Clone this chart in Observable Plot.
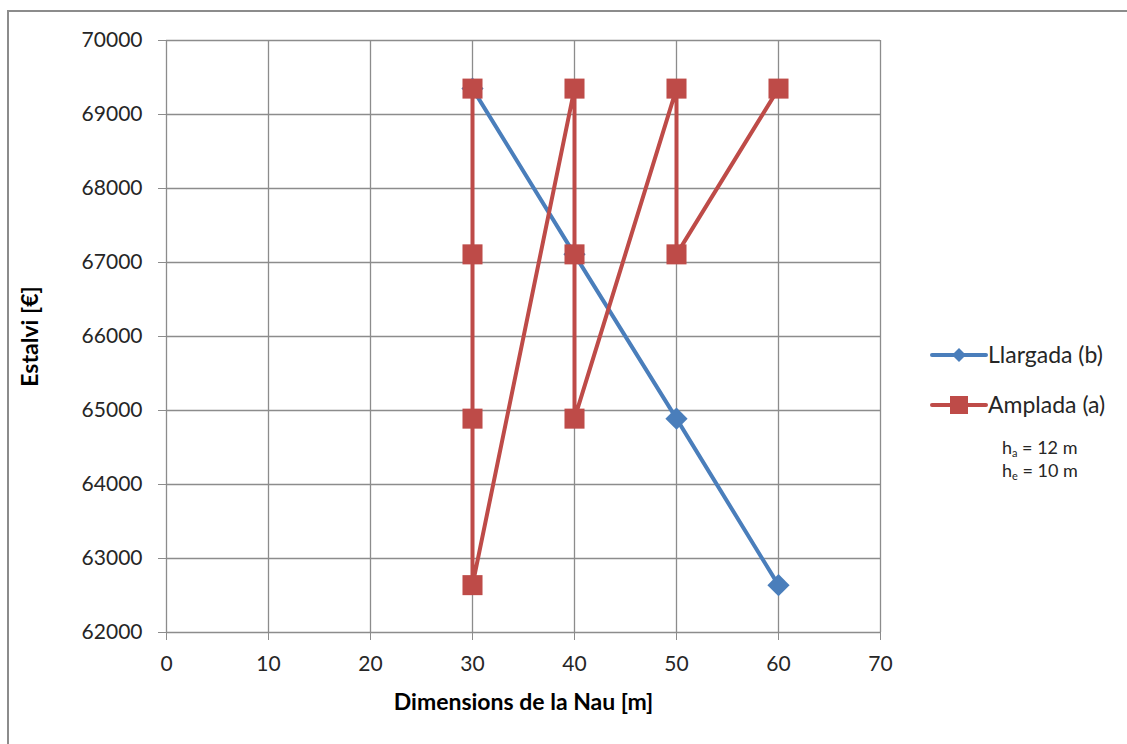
<!DOCTYPE html>
<html>
<head>
<meta charset="utf-8">
<script src="https://cdn.jsdelivr.net/npm/d3@7"></script>
<script src="https://cdn.jsdelivr.net/npm/@observablehq/plot@0.6"></script>
<style>
  html, body { margin: 0; padding: 0; background: #fff; }
  #wrap { position: relative; width: 1127px; height: 744px; overflow: hidden; font-family: Lato, "Open Sans", sans-serif; color: #262626; }
  #frame { position: absolute; left: 7px; top: 10px; width: 1140px; height: 760px; border: 2px solid #8c8c8c; box-sizing: border-box; }
  #chart { position: absolute; left: 0; top: 0; }
  .leg { position: absolute; font-size: 23px; line-height: 1; white-space: nowrap; }
  .note { position: absolute; font-size: 18px; line-height: 1; white-space: nowrap; }
  .note sub { font-size: 11px; vertical-align: -3px; }
</style>
</head>
<body>
<div id="wrap">
  <div id="frame"></div>
  <div id="chart"></div>
  <div id="legend"></div>
</div>
<script>
// ---- data ----
const xTicks = [0, 10, 20, 30, 40, 50, 60, 70];
const yTicks = [62000, 63000, 64000, 65000, 66000, 67000, 68000, 69000, 70000];

const llargadaX = [30, 40, 50, 60];
const llargadaY = [69350, 67110, 64890, 62640];

const ampladaX = [30, 30, 30, 30, 40, 40, 40, 50, 50, 60];
const ampladaY = [69350, 67110, 64890, 62640, 69350, 67110, 64890, 69350, 67110, 69350];

const seriesNames = ["Llargada (b)", "Amplada (a)"];
const seriesColors = ["#4A7EBB", "#BE4B48"];
const xTitle = "Dimensions de la Nau [m]";
const yTitle = "Estalvi [€]";
const notes = [["h", "a", " = 12 m"], ["h", "e", " = 10 m"]];

const llargada = llargadaX.map((x, i) => ({x, y: llargadaY[i]}));
const amplada = ampladaX.map((x, i) => ({x, y: ampladaY[i]}));

const gridColor = "#8c8c8c";

const chart = Plot.plot({
  width: 1127,
  height: 744,
  marginLeft: 166,
  marginRight: 247,
  marginTop: 40,
  marginBottom: 112,
  style: {fontFamily: "Lato, 'Open Sans', sans-serif", fontSize: "21px", color: "#262626", background: "transparent", overflow: "visible"},
  x: {domain: [0, 70]},
  y: {domain: [62000, 70000]},
  marks: [
    Plot.gridX(xTicks, {stroke: gridColor, strokeOpacity: 1, strokeWidth: 1.3}),
    Plot.gridY(yTicks, {stroke: gridColor, strokeOpacity: 1, strokeWidth: 1.3}),
    Plot.axisY(yTicks, {tickSize: 8, tickPadding: 16, tickFormat: d => String(d), stroke: gridColor, fill: "#262626", fontSize: 21, label: null}),
    Plot.axisX(xTicks, {tickSize: 8, tickPadding: 16, tickFormat: d => String(d), stroke: gridColor, fill: "#262626", fontSize: 21, label: null}),
    Plot.text([yTitle], {frameAnchor: "left", dx: -136, rotate: -90, textAnchor: "middle", fontWeight: "bold", fontSize: 23, fill: "#000"}),
    Plot.text([xTitle], {frameAnchor: "bottom", dy: 77, textAnchor: "middle", fontWeight: "bold", fontSize: 23, fill: "#000"}),
    Plot.line(llargada, {x: "x", y: "y", stroke: seriesColors[0], strokeWidth: 4, strokeLinejoin: "round"}),
    Plot.dot(llargada, {x: "x", y: "y", symbol: "diamond2", r: 10, fill: seriesColors[0], stroke: null}),
    Plot.line(amplada, {x: "x", y: "y", stroke: seriesColors[1], strokeWidth: 4, strokeLinejoin: "round"}),
    Plot.dot(amplada, {x: "x", y: "y", symbol: "square", r: 11.3, fill: seriesColors[1], stroke: null})
  ]
});
document.getElementById("chart").appendChild(chart);

// ---- legend ----
const legend = document.getElementById("legend");
const legY = [355, 405];
seriesNames.forEach((name, i) => {
  const svg = document.createElementNS("http://www.w3.org/2000/svg", "svg");
  svg.setAttribute("width", 60);
  svg.setAttribute("height", 30);
  svg.style.position = "absolute";
  svg.style.left = "929px";
  svg.style.top = (legY[i] - 15) + "px";
  const ln = document.createElementNS("http://www.w3.org/2000/svg", "line");
  ln.setAttribute("x1", 3); ln.setAttribute("x2", 57);
  ln.setAttribute("y1", 15); ln.setAttribute("y2", 15);
  ln.setAttribute("stroke", seriesColors[i]);
  ln.setAttribute("stroke-width", 4);
  ln.setAttribute("stroke-linecap", "round");
  svg.appendChild(ln);
  const m = document.createElementNS("http://www.w3.org/2000/svg", "path");
  m.setAttribute("d", i === 0 ? "M30,8L37,15L30,22L23,15Z" : "M21,6H39V24H21Z");
  m.setAttribute("fill", seriesColors[i]);
  svg.appendChild(m);
  legend.appendChild(svg);
  const t = document.createElement("div");
  t.className = "leg";
  t.textContent = name;
  t.style.left = "988px";
  t.style.top = (legY[i] - 12) + "px";
  legend.appendChild(t);
});
const noteY = [438, 461];
notes.forEach((n, i) => {
  const d = document.createElement("div");
  d.className = "note";
  d.style.left = "1002px";
  d.style.top = noteY[i] + "px";
  d.innerHTML = n[0] + "<sub>" + n[1] + "</sub>" + n[2];
  legend.appendChild(d);
});
</script>
</body>
</html>
